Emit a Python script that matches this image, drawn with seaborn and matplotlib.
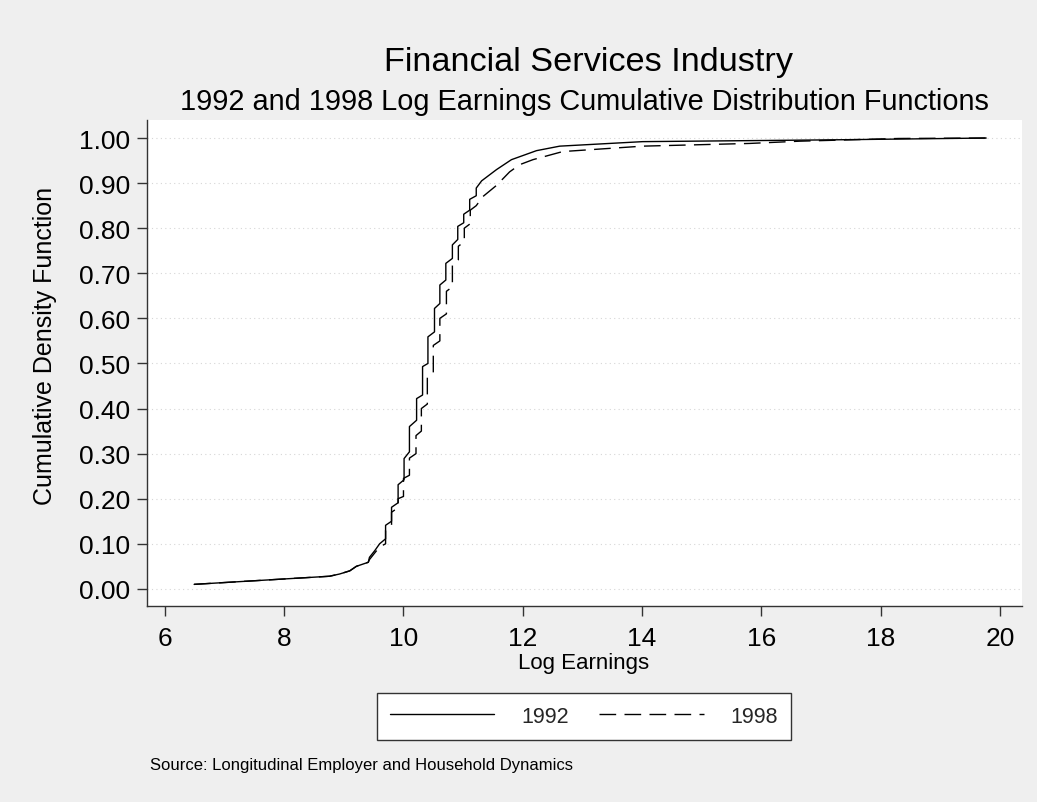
import matplotlib
matplotlib.use("Agg")
import matplotlib.pyplot as plt
import seaborn as sns
import pandas as pd
from matplotlib.lines import Line2D

# Log earnings and cumulative share, 1992
earn_1992 = [6.49, 8.76, 8.93, 9.10, 9.21, 9.41, 9.43, 9.52, 9.60, 9.70, 9.70,
             9.80, 9.80, 9.91, 9.91, 10.01, 10.01, 10.10, 10.10, 10.22, 10.22,
             10.32, 10.32, 10.41, 10.41, 10.52, 10.52, 10.61, 10.61, 10.71, 10.71,
             10.82, 10.82, 10.91, 10.91, 11.01, 11.01, 11.11, 11.11, 11.22, 11.22,
             11.31, 11.56, 11.81, 12.23, 12.62, 14.01, 17.20, 19.77]
cdf_1992 = [0.010, 0.028, 0.033, 0.040, 0.050, 0.059, 0.070, 0.085, 0.100, 0.111, 0.141,
            0.150, 0.181, 0.191, 0.231, 0.242, 0.289, 0.304, 0.360, 0.374, 0.422,
            0.430, 0.493, 0.500, 0.559, 0.570, 0.622, 0.633, 0.674, 0.685, 0.722,
            0.733, 0.763, 0.775, 0.804, 0.812, 0.831, 0.840, 0.864, 0.872, 0.889,
            0.905, 0.930, 0.952, 0.972, 0.982, 0.992, 0.996, 1.000]

# Log earnings and cumulative share, 1998
earn_1998 = [6.49, 8.76, 8.93, 9.10, 9.21, 9.41, 9.43, 9.52, 9.60, 9.70, 9.70,
             9.80, 9.80, 9.91, 9.91, 10.00, 10.00, 10.10, 10.10, 10.21, 10.21,
             10.30, 10.30, 10.40, 10.40, 10.50, 10.50, 10.61, 10.61, 10.72, 10.72,
             10.82, 10.82, 10.92, 10.92, 11.02, 11.02, 11.12, 11.12, 11.22, 11.33,
             11.56, 11.78, 11.95, 12.17, 12.67, 14.01, 15.80, 16.64, 17.47, 18.30, 19.77]
cdf_1998 = [0.010, 0.028, 0.033, 0.040, 0.050, 0.059, 0.065, 0.080, 0.093, 0.100, 0.130,
            0.140, 0.170, 0.180, 0.200, 0.205, 0.245, 0.252, 0.290, 0.300, 0.340,
            0.350, 0.400, 0.410, 0.470, 0.480, 0.540, 0.550, 0.600, 0.610, 0.660,
            0.670, 0.720, 0.730, 0.760, 0.770, 0.800, 0.810, 0.840, 0.850, 0.870,
            0.895, 0.925, 0.941, 0.952, 0.970, 0.982, 0.988, 0.993, 0.996, 0.999, 1.000]

x_ticks = [6, 8, 10, 12, 14, 16, 18, 20]
y_ticks = [0.0, 0.1, 0.2, 0.3, 0.4, 0.5, 0.6, 0.7, 0.8, 0.9, 1.0]

sns.set_theme(style="white")
plt.rcParams["font.family"] = ["Liberation Sans", "DejaVu Sans"]

df92 = pd.DataFrame({"earn": earn_1992, "cdf": cdf_1992})
df98 = pd.DataFrame({"earn": earn_1998, "cdf": cdf_1998})

W, H = 1037, 803
bg = "#efefef"
fig = plt.figure(figsize=(W / 100, H / 100), dpi=100, facecolor=bg)
left, right, top, bottom = 147, 1022, 121, 607
ax = fig.add_axes([left / W, 1 - bottom / H, (right - left) / W, (bottom - top) / H])
ax.set_facecolor("white")

sns.lineplot(data=df92, x="earn", y="cdf", estimator=None, sort=False,
             color="black", lw=1.0, ax=ax)
sns.lineplot(data=df98, x="earn", y="cdf", estimator=None, sort=False,
             color="black", lw=1.0, ax=ax)
ax.lines[1].set_dashes((12, 6))

ax.set_xlim(5.70, 20.37)
ax.set_ylim(-0.038, 1.04)
ax.set_xticks(x_ticks)
ax.set_xticklabels([str(t) for t in x_ticks], fontsize=19)
ax.set_yticks(y_ticks)
ax.set_yticklabels([f"{t:.2f}" for t in y_ticks], fontsize=19)
ax.tick_params(axis="both", which="major", direction="out", length=7, width=1,
               color="#333333", bottom=True, left=True, labelcolor="black")
ax.tick_params(axis="x", pad=7.5)
ax.tick_params(axis="y", pad=5)

for t in y_ticks:
    ax.axhline(t, color="#d6d6d6", lw=0.8, ls=(0, (1, 3)), zorder=0)

for side in ["top", "right"]:
    ax.spines[side].set_visible(False)
for side in ["left", "bottom"]:
    ax.spines[side].set_color("#333333")
    ax.spines[side].set_linewidth(1.0)

ax.set_xlabel("Log Earnings", fontsize=16, color="black")
ax.xaxis.label.set_va("center")
ax.xaxis.set_label_coords((584 - left) / (right - left), -(664 - bottom) / (bottom - top))
ax.set_ylabel("Cumulative Density Function", fontsize=18, color="black")
ax.yaxis.label.set_va("center")
ax.yaxis.set_label_coords(-(left - 45) / (right - left), (bottom - 346) / (bottom - top))

fig.text(589 / W, 1 - 62 / H, "Financial Services Industry", ha="center",
         va="center", fontsize=24.7, color="black")
fig.text(584 / W, 1 - 102 / H,
         "1992 and 1998 Log Earnings Cumulative Distribution Functions",
         ha="center", va="center", fontsize=20.8, color="black")
fig.text(150 / W, 1 - 766 / H,
         "Source: Longitudinal Employer and Household Dynamics",
         ha="left", va="center", fontsize=12, color="black")

handles = [Line2D([], [], color="black", lw=1.0),
           Line2D([], [], color="black", lw=1.0, dashes=(12, 6))]
leg = fig.legend(handles, ["1992", "1998"], loc="center",
                 bbox_to_anchor=(584 / W, 1 - 717.5 / H), ncol=2,
                 fontsize=15.5, handlelength=4.85, handletextpad=1.25,
                 columnspacing=1.4, frameon=True, fancybox=False,
                 borderpad=0.6, borderaxespad=0, edgecolor="#333333",
                 facecolor="white", framealpha=1)
leg.get_frame().set_linewidth(1.0)

fig.savefig("out.png", dpi=100, facecolor=bg)
